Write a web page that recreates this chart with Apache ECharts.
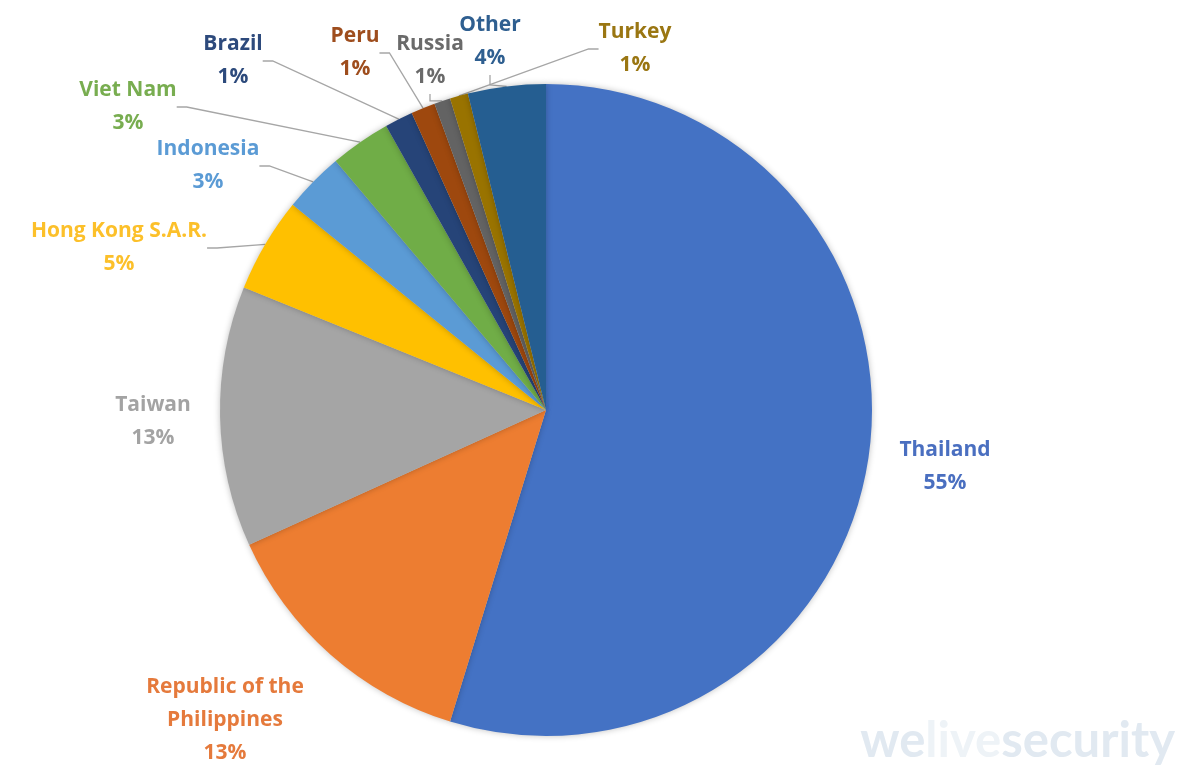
<!DOCTYPE html>
<html>
<head>
<meta charset="utf-8">
<script src="https://cdn.jsdelivr.net/npm/echarts@6/dist/echarts.min.js"></script>
<style>html,body{margin:0;padding:0;background:#fff}#c{width:1178px;height:768px}</style>
</head>
<body>
<div id="c"></div>
<script>
const categories = ['Thailand','Republic of the\nPhilippines','Taiwan','Hong Kong S.A.R.','Indonesia','Viet Nam','Brazil','Peru','Russia','Turkey','Other'];
const values = [54.7, 13.45, 12.9, 4.7, 3.0, 3.0, 1.4, 1.2, 0.8, 0.9, 3.85];

const sliceColors = ['#4472C4','#ED7D31','#A5A5A5','#FFC000','#5B9BD5','#70AD47','#264478','#9E480E','#636363','#997300','#255E91'];
const labelColors = ['#4a6fc0','#e57a3c','#a3a3a3','#fcc02a','#5b9bd5','#78ad50','#2d4a7c','#9e4d1d','#6a6a6a','#9a7612','#2f5f90'];
// label centres (layout only)
const labelPos = [[945,467],[225,720],[153,422],[119,248],[208,166],[128,107],[233,61],[355,53],[430,61],[635,49],[490,42]];
const noLine = [0,1,2];

const chart = echarts.init(document.getElementById('c'), null, {renderer:'canvas'});
const data = categories.map((n,i)=>({
  name:n, value:values[i],
  itemStyle:{color:sliceColors[i]},
  label:{color:labelColors[i]},
  labelLine:{show: noLine.indexOf(i) < 0}
}));
chart.setOption({
  backgroundColor:'#ffffff',
  animation:false,
  graphic:[{
    type:'text', right:3, bottom:2,
    style:{
      text:'{a|we}{b|live}{a|security}',
      rich:{
        a:{fontFamily:'Lato', fontWeight:'bold', fontSize:49, fill:'#e1e9f1'},
        b:{fontFamily:'Lato', fontWeight:'bold', fontSize:49, fill:'#eef3f7'}
      }
    }
  }],
  series:[{
    type:'pie',
    center:[546,410],
    radius:326,
    startAngle:90,
    clockwise:true,
    data:data,
    itemStyle:{shadowBlur:6, shadowColor:'rgba(0,0,0,0.25)'},
    label:{
      show:true,
      formatter:function(p){return p.name + '\n' + Math.round(p.percent) + '%';},
      fontFamily:'Open Sans', fontWeight:'bold', fontSize:21, lineHeight:33, align:'center'
    },
    labelLine:{lineStyle:{color:'#a6a6a6', width:1.3}, length:10, length2:10},
    labelLayout:function(p){
      const q = labelPos[p.dataIndex];
      return {x:q[0], y:q[1], align:'center', verticalAlign:'middle'};
    },
    emphasis:{disabled:true}
  }]
});
</script>
</body>
</html>
